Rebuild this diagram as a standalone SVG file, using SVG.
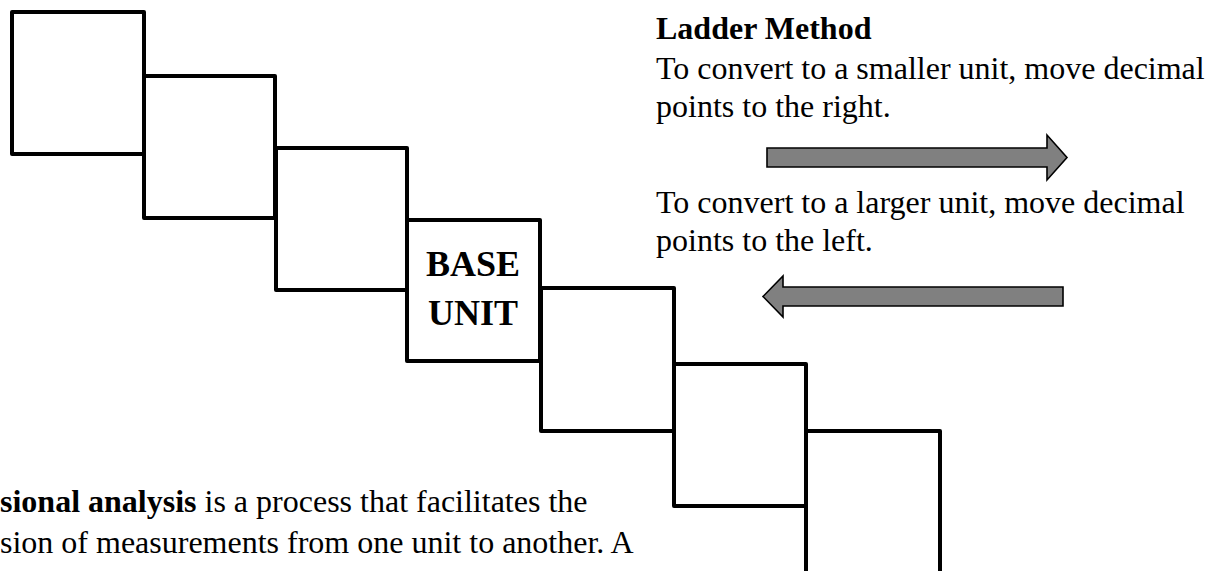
<svg xmlns="http://www.w3.org/2000/svg" width="1210" height="571" viewBox="0 0 1210 571">
  <style>
    .box { fill: #ffffff; stroke: #000000; stroke-width: 4; stroke-linejoin: round; }
    .arrow { fill: #808080; stroke: #000000; stroke-width: 1.6; stroke-linejoin: miter; }
    .t { font-family: "Liberation Serif", "Times New Roman", serif; font-size: 32px; fill: #000000; }
    .b { font-weight: bold; }
    .base { font-family: "Liberation Serif", "Times New Roman", serif; font-size: 36px; font-weight: bold; fill: #000000; text-anchor: middle; }
  </style>
  <rect width="1210" height="571" fill="#ffffff"/>

  <g id="step1"><rect class="box" x="12" y="12" width="132" height="142"/></g>
  <g id="step2"><rect class="box" x="144" y="76" width="131" height="142"/></g>
  <g id="step3"><rect class="box" x="276" y="148" width="131" height="142"/></g>
  <g id="base-unit">
    <rect class="box" x="407" y="220" width="133" height="141"/>
    <text class="base" x="473" y="276">BASE</text>
    <text class="base" x="473" y="325">UNIT</text>
  </g>
  <g id="step5"><rect class="box" x="541" y="288" width="133" height="143"/></g>
  <g id="step6"><rect class="box" x="674" y="364" width="132" height="142"/></g>
  <g id="step7"><rect class="box" x="806" y="431" width="134" height="142"/></g>

  <g id="arrows">
    <polygon class="arrow" points="767,148 1047,148 1047,135 1067,157.5 1047,180 1047,167 767,167"/>
    <polygon class="arrow" points="1063,287 783,287 783,276 763,296.5 783,317 783,306 1063,306"/>
  </g>

  <g id="ladder-text">
    <text class="t b" x="656" y="39">Ladder Method</text>
    <text class="t" x="656" y="79">To convert to a smaller unit, move decimal</text>
    <text class="t" x="656" y="117">points to the right.</text>
    <text class="t" x="656" y="213">To convert to a larger unit, move decimal</text>
    <text class="t" x="656" y="251">points to the left.</text>
  </g>

  <g id="body-text">
    <text class="t" x="0" y="512"><tspan class="b">sional analysis</tspan> is a process that facilitates the</text>
    <text class="t" x="0" y="553">sion of measurements from one unit to another. A</text>
  </g>
</svg>
